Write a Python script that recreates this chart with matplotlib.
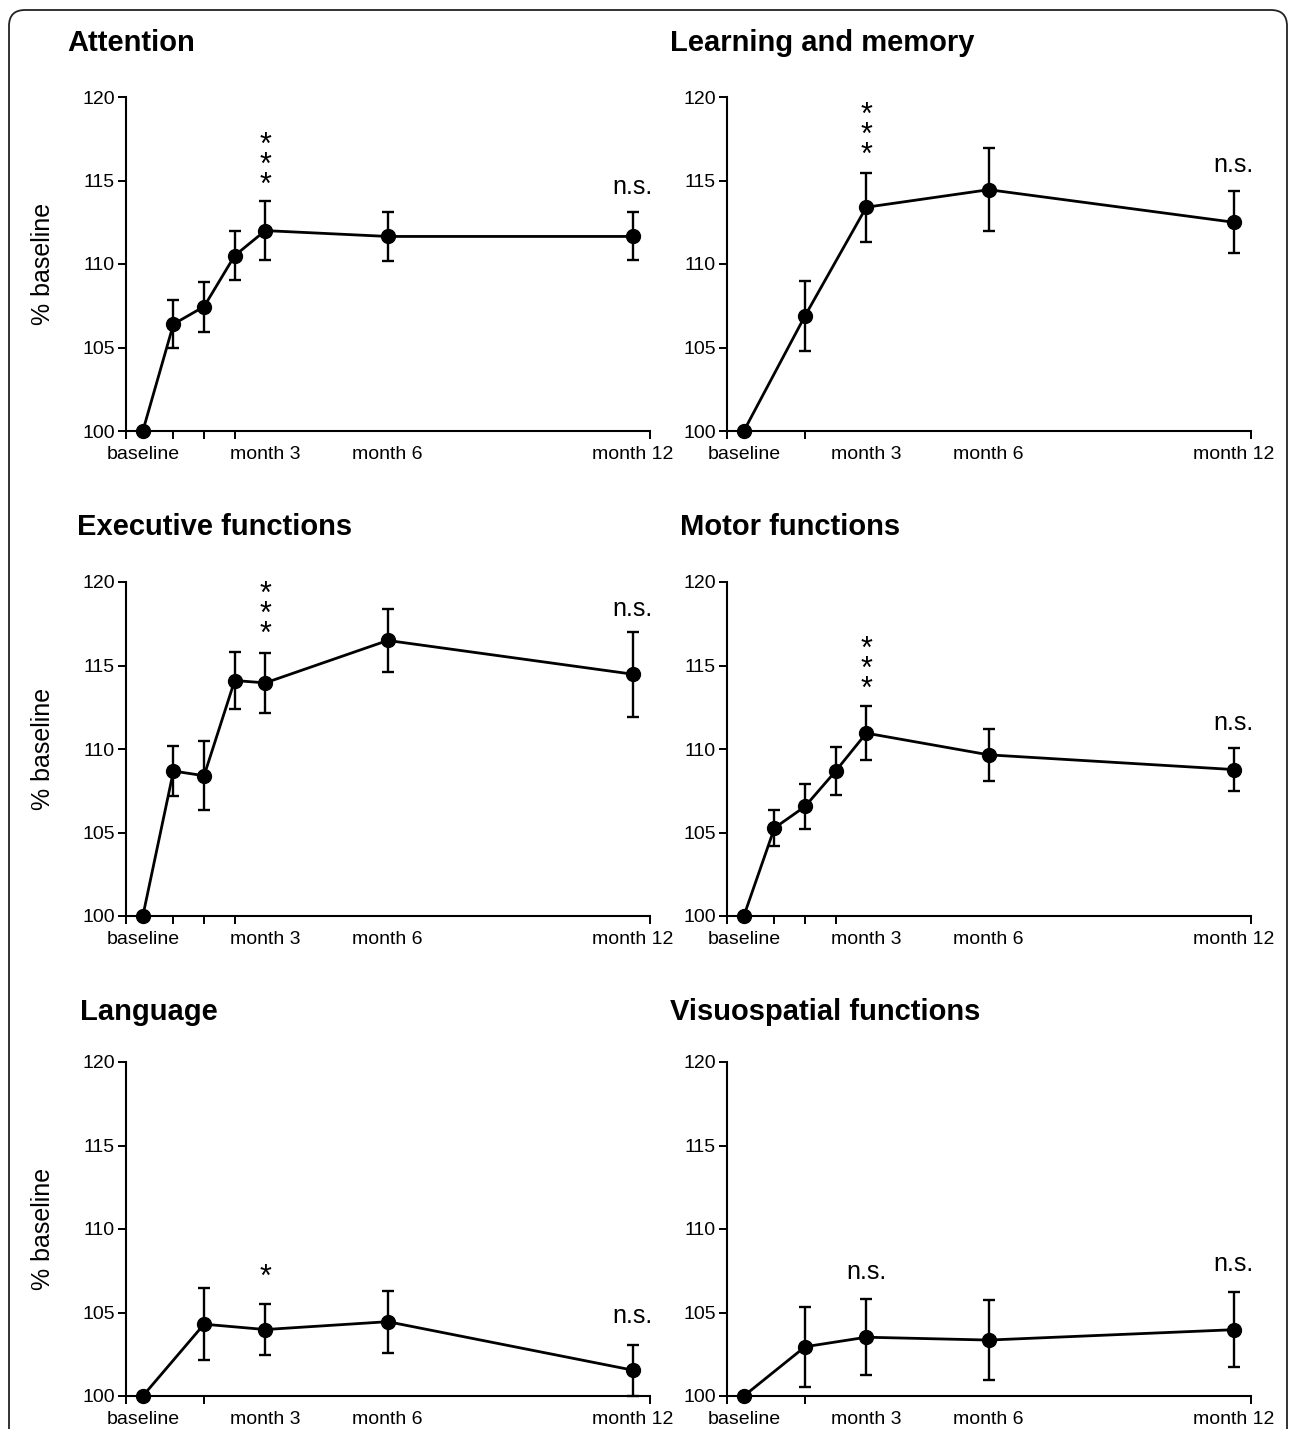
import matplotlib
matplotlib.use("Agg")
import matplotlib.pyplot as plt
from matplotlib.patches import FancyBboxPatch
from matplotlib.transforms import offset_copy

plt.rcParams['font.family'] = ['Liberation Sans', 'DejaVu Sans']

# time points in weeks after baseline
weeks_full = [0, 3, 6, 9, 12, 24, 48]
weeks_short = [0, 6, 12, 24, 48]

tick_weeks = [0, 12, 24, 48]
tick_labels = ['baseline', 'month 3', 'month 6', 'month 12']

titles = ['Attention', 'Learning and memory', 'Executive functions',
          'Motor functions', 'Language', 'Visuospatial functions']

attention_mean = [100, 106.4, 107.45, 110.5, 112.0, 111.65, 111.65]
attention_err = [0, 1.45, 1.5, 1.45, 1.77, 1.46, 1.44]

learning_mean = [100, 106.9, 113.4, 114.45, 112.5]
learning_err = [0, 2.1, 2.07, 2.48, 1.85]

executive_mean = [100, 108.68, 108.4, 114.1, 113.96, 116.5, 114.48]
executive_err = [0, 1.49, 2.08, 1.72, 1.8, 1.86, 2.54]

motor_mean = [100, 105.27, 106.56, 108.68, 110.95, 109.65, 108.77]
motor_err = [0, 1.05, 1.33, 1.42, 1.63, 1.56, 1.26]

language_mean = [100, 104.3, 103.98, 104.45, 101.55]
language_err = [0, 2.17, 1.55, 1.86, 1.53]

visuo_mean = [100, 102.95, 103.52, 103.35, 103.97]
visuo_err = [0, 2.39, 2.26, 2.4, 2.23]

# significance marks: (week, value of the lowest symbol, text)
attention_marks = [(12, 115.0, '*\n*\n*'), (48, 114.6, 'n.s.')]
learning_marks = [(12, 116.8, '*\n*\n*'), (48, 115.9, 'n.s.')]
executive_marks = [(12, 117.16, '*\n*\n*'), (48, 118.4, 'n.s.')]
motor_marks = [(12, 113.88, '*\n*\n*'), (48, 111.53, 'n.s.')]
language_marks = [(12, 107.39, '*'), (48, 104.78, 'n.s.')]
visuo_marks = [(12, 107.43, 'n.s.'), (48, 107.9, 'n.s.')]

panels = [
    (weeks_full, attention_mean, attention_err, attention_marks),
    (weeks_short, learning_mean, learning_err, learning_marks),
    (weeks_full, executive_mean, executive_err, executive_marks),
    (weeks_full, motor_mean, motor_err, motor_marks),
    (weeks_short, language_mean, language_err, language_marks),
    (weeks_short, visuo_mean, visuo_err, visuo_marks),
]

W, H = 1295, 1429
fig = plt.figure(figsize=(W / 100, H / 100), dpi=100)

# layout in pixels
col_left = [126, 727]
row_bottom = [431, 916, 1396]
ax_w, ax_h = 524, 334
title_pos = [(67, 43), (670, 43), (77, 527), (680, 527), (80, 1012), (670, 1012)]
XLO, XHI = -1.65, 49.7
STAR_FS = 22

for i, (weeks, mean, err, marks) in enumerate(panels):
    r, c = divmod(i, 2)
    ax = fig.add_axes([col_left[c] / W, 1 - row_bottom[r] / H, ax_w / W, ax_h / H])
    ax.errorbar(weeks, mean, yerr=err, fmt='-o', color='black', lw=2.0,
                ms=10, elinewidth=1.7, capsize=4.5, capthick=1.7)
    for a in ax.lines + ax.collections:
        a.set_clip_on(False)

    ax.set_xlim(XLO, XHI)
    ax.set_ylim(100, 120)
    ax.set_yticks([100, 105, 110, 115, 120])
    ax.set_xticks(tick_weeks)
    ax.set_xticklabels(tick_labels)
    ax.set_xticks([XLO] + weeks[1:] + [XHI], minor=True)
    ax.tick_params(axis='x', which='major', length=0, pad=11, labelsize=14)
    ax.tick_params(axis='x', which='minor', length=6, width=1.4, direction='out')
    ax.tick_params(axis='y', length=6, width=1.4, pad=2, labelsize=14)
    for s in ['top', 'right']:
        ax.spines[s].set_visible(False)
    for s in ['left', 'bottom']:
        ax.spines[s].set_linewidth(1.5)

    if c == 0:
        ax.set_ylabel('% baseline', fontsize=18)
        ax.yaxis.set_label_coords(-0.135, 0.5)

    star_tr = offset_copy(ax.transData, fig=fig, y=-0.45 * STAR_FS, units='points')
    for wk, val, txt in marks:
        if txt.startswith('*'):
            ax.text(wk, val, txt, ha='center', va='baseline', fontsize=STAR_FS,
                    linespacing=0.57, transform=star_tr)
        else:
            ax.text(wk, val, txt, ha='center', va='center', fontsize=18)

    tx, ty = title_pos[i]
    fig.text(tx / W, 1 - ty / H, titles[i], fontsize=21, fontweight='bold',
             ha='left', va='center')

# rounded frame around the whole figure
frame = FancyBboxPatch((9, -20), 1278, H - 10 + 20,
                       boxstyle='round,pad=0,rounding_size=16',
                       transform=None, fill=False, lw=1.3, ec='#222222')
fig.add_artist(frame)

fig.savefig('out.png', dpi=100)
